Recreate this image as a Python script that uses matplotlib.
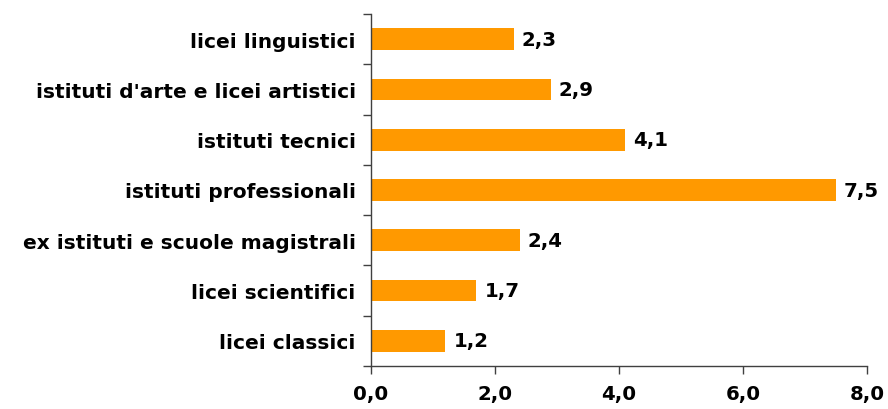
import matplotlib
matplotlib.use("Agg")
import matplotlib.pyplot as plt
from matplotlib.ticker import FixedLocator

categories = ["licei classici", "licei scientifici", "ex istituti e scuole magistrali",
              "istituti professionali", "istituti tecnici",
              "istituti d'arte e licei artistici", "licei linguistici"]
values = [1.2, 1.7, 2.4, 7.5, 4.1, 2.9, 2.3]
xticks = [0, 2, 4, 6, 8]
xticklabels = ["0,0", "2,0", "4,0", "6,0", "8,0"]

plt.rcParams['font.family'] = ['DejaVu Sans']
fig = plt.figure(figsize=(8.88, 4.10), dpi=100)
ax = fig.add_axes([371/888, 1 - 367/410, (867 - 371)/888, (367 - 15)/410])

y = list(range(len(categories)))
ax.barh(y, values, height=0.43, color="#FF9900", zorder=2)
for yi, v in zip(y, values):
    ax.text(v + 0.13, yi, f"{v:.1f}".replace(".", ","), va="center", ha="left",
            fontsize=14.2, fontweight="bold", color="black")

ax.set_xlim(0, 8)
ax.set_ylim(-0.5, len(categories) - 0.5)
ax.set_xticks(xticks)
ax.set_xticklabels(xticklabels, fontsize=14.2, fontweight="bold")
ax.set_yticks(y)
ax.set_yticklabels(categories, fontsize=14.5, fontweight="bold")
ax.yaxis.set_minor_locator(FixedLocator([i - 0.5 for i in range(len(categories) + 1)]))
ax.tick_params(axis="y", which="major", length=0, pad=11)
ax.tick_params(axis="y", which="minor", length=6, width=1, color="#404040", direction="out")
ax.tick_params(axis="x", which="major", length=6, width=1, color="#404040", direction="out", pad=7)

for s in ["top", "right"]:
    ax.spines[s].set_visible(False)
for s in ["left", "bottom"]:
    ax.spines[s].set_color("#404040")
    ax.spines[s].set_linewidth(1)

fig.savefig("out.png", dpi=100)
